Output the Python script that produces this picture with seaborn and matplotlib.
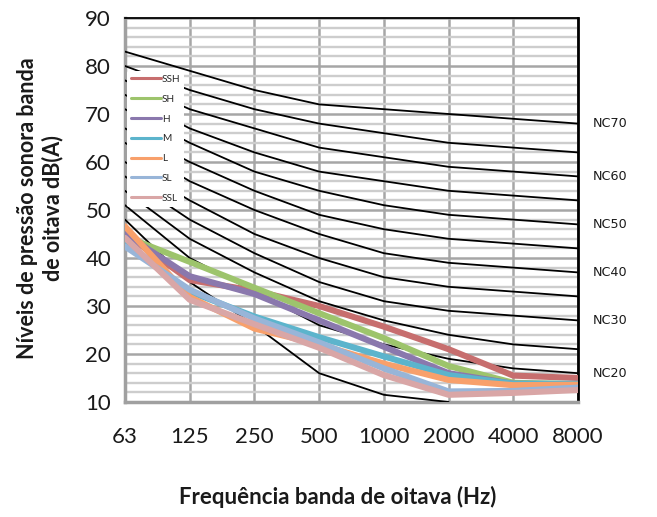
import numpy as np
import pandas as pd
import matplotlib
matplotlib.use("Agg")
import matplotlib.pyplot as plt
from matplotlib.ticker import MultipleLocator
import seaborn as sns

# ---------------- data ----------------
freqs = ["63", "125", "250", "500", "1000", "2000", "4000", "8000"]

series_names = ["SSH", "SH", "H", "M", "L", "SL", "SSL"]
ssh = [45.0, 35.4, 33.2, 30.0, 25.7, 21.0, 15.5, 15.0]
sh  = [44.5, 39.2, 33.8, 28.5, 23.3, 17.5, 14.0, 13.7]
h   = [45.0, 36.2, 32.5, 27.0, 21.5, 16.0, 13.8, 13.7]
m   = [43.4, 33.0, 27.8, 23.5, 19.5, 15.6, 13.8, 13.8]
l   = [46.6, 31.9, 25.3, 22.0, 18.0, 14.6, 13.5, 13.6]
sl  = [42.4, 33.4, 27.4, 22.4, 17.0, 12.2, 12.3, 13.0]
ssl = [44.2, 31.3, 26.2, 21.3, 15.6, 11.5, 11.9, 12.5]
series_values = [ssh, sh, h, m, l, sl, ssl]

nc_names = ["NC15", "NC20", "NC25", "NC30", "NC35", "NC40", "NC45",
            "NC50", "NC55", "NC60", "NC65", "NC70"]
nc15 = [48, 35, 26, 16, 11.5, 10, np.nan, np.nan]
nc20 = [51, 40, 33, 26, 22, 19, 17, 16]
nc25 = [54, 44, 37, 31, 27, 24, 22, 21]
nc30 = [57, 48, 41, 35, 31, 29, 28, 27]
nc35 = [60, 52, 45, 40, 36, 34, 33, 32]
nc40 = [64, 56, 50, 45, 41, 39, 38, 37]
nc45 = [67, 60, 54, 49, 46, 44, 43, 42]
nc50 = [71, 64, 58, 54, 51, 49, 48, 47]
nc55 = [74, 67, 62, 58, 56, 54, 53, 52]
nc60 = [77, 71, 67, 63, 61, 59, 58, 57]
nc65 = [80, 75, 71, 68, 66, 64, 63, 62]
nc70 = [83, 79, 75, 72, 71, 70, 69, 68]
nc_values = [nc15, nc20, nc25, nc30, nc35, nc40, nc45, nc50, nc55, nc60, nc65, nc70]
nc_labelled = ["NC20", "NC30", "NC40", "NC50", "NC60", "NC70"]

x_title = "Frequência banda de oitava (Hz)"
y_title = "Níveis de pressão sonora banda\nde oitava dB(A)"

# ---------------- style ----------------
sns.set_style("white")
plt.rcParams["font.family"] = ["Lato", "DejaVu Sans"]

palette = {"SSH": "#C76E6E", "SH": "#9DC46C", "H": "#8A78AD", "M": "#5CB4CC",
           "L": "#F8A06B", "SL": "#98B5D8", "SSL": "#D9A6A6"}

pos = list(range(len(freqs)))
df_nc = pd.DataFrame([(n, p, v) for n, vals in zip(nc_names, nc_values)
                      for p, v in zip(pos, vals)], columns=["curve", "pos", "val"])
df_s = pd.DataFrame([(n, p, v) for n, vals in zip(series_names, series_values)
                     for p, v in zip(pos, vals)], columns=["series", "pos", "val"])

fig = plt.figure(figsize=(6.57, 5.17), dpi=100)
ax = fig.add_axes([125 / 657, 1 - 402 / 517, 453 / 657, 384 / 517])

sns.lineplot(data=df_nc, x="pos", y="val", units="curve", estimator=None,
             color="black", linewidth=1.3, sort=False, ax=ax, zorder=3)
sns.lineplot(data=df_s, x="pos", y="val", hue="series", hue_order=series_names,
             palette=palette, linewidth=4.4, sort=False, ax=ax, zorder=4)

ax.set_xlim(0, len(freqs) - 1)
ax.set_ylim(10, 90)
ax.set_xticks(pos)
ax.set_xticklabels(freqs)
ax.yaxis.set_major_locator(MultipleLocator(10))
ax.yaxis.set_minor_locator(MultipleLocator(2))
ax.set_xlabel("")
ax.set_ylabel("")

ax.grid(which="major", axis="both", color="#A6A6A6", linewidth=1.8, zorder=0)
ax.grid(which="minor", axis="y", color="#CDCDCD", linewidth=1.7, zorder=0)
ax.set_axisbelow(True)

ax.tick_params(axis="both", which="major", labelsize=16, colors="#A0A0A0",
               labelcolor="#1a1a1a", length=6, width=1.5, direction="out", pad=4)
ax.tick_params(axis="y", which="minor", length=3, width=1.2, colors="#A0A0A0")
ax.tick_params(axis="x", which="major", pad=12)

for side in ["left", "bottom"]:
    ax.spines[side].set_color("#A0A0A0")
    ax.spines[side].set_linewidth(2.5)
ax.spines["top"].set_color("black")
ax.spines["top"].set_linewidth(1.3)
ax.spines["right"].set_color("black")
ax.spines["right"].set_linewidth(2.0)

# NC labels at the right end of labelled curves
for name, vals in zip(nc_names, nc_values):
    if name in nc_labelled:
        ax.text(len(freqs) - 1 + 0.23, vals[-1], name, ha="left", va="center",
                fontsize=9.2, family="DejaVu Sans", color="#1a1a1a", clip_on=False)

leg = ax.legend(loc="upper left", bbox_to_anchor=(0.004, 0.862), frameon=True,
                fontsize=7.2, handlelength=3.0, handletextpad=0.1,
                labelspacing=1.08, borderpad=0.4, borderaxespad=0)
leg.get_frame().set_facecolor("white")
leg.get_frame().set_edgecolor("none")
leg.get_frame().set_alpha(1)
for lh in leg.get_lines():
    lh.set_linewidth(2.2)
leg.set_zorder(10)

fig.text(40 / 657, 1 - 208 / 517, y_title, rotation=90, ha="center",
         va="center", fontsize=15.5, fontweight="bold", color="#1a1a1a",
         linespacing=1.2, multialignment="center")
fig.text(338 / 657, 1 - 497 / 517, x_title, ha="center", va="center",
         fontsize=16, fontweight="bold", color="#1a1a1a")

fig.savefig("out.png", dpi=100)
